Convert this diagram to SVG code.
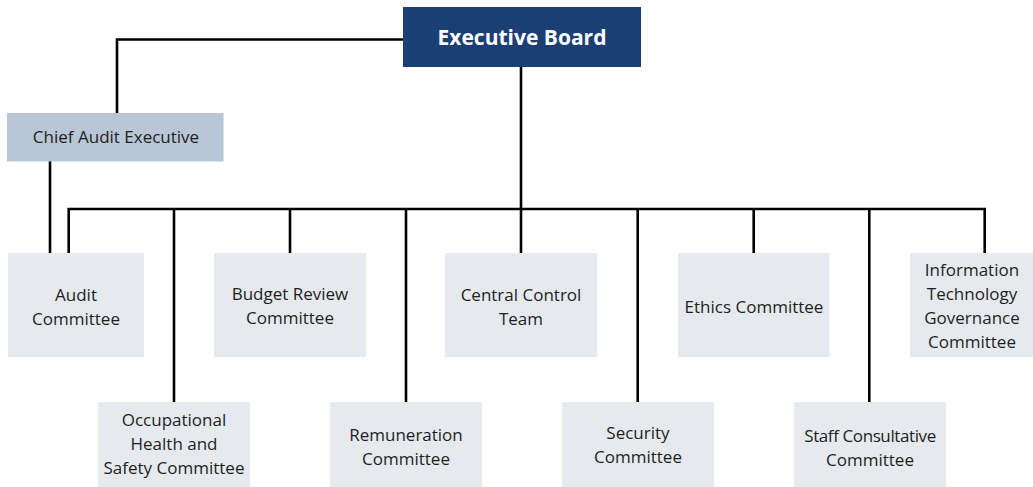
<svg xmlns="http://www.w3.org/2000/svg" width="1033" height="487" viewBox="0 0 1033 487">
  <style>
    .box { fill: #e6eaee; }
    .lbl { font-family: "Open Sans", "Noto Sans", sans-serif; font-size: 17px; fill: #1e1e1e; text-anchor: middle; }
    .wire { fill: none; stroke: #000; stroke-width: 2.6; stroke-linecap: butt; stroke-linejoin: miter; }
  </style>
  <rect width="1033" height="487" fill="#ffffff"/>

  <!-- connectors -->
  <g id="connectors" class="wire">
    <polyline points="403,39.5 117,39.5 117,113"/>
    <line x1="50" y1="161" x2="50" y2="253"/>
    <line x1="521" y1="67" x2="521" y2="253"/>
    <polyline points="68.7,253 68.7,209 984.7,209 984.7,253"/>
    <line x1="174" y1="209" x2="174" y2="402"/>
    <line x1="290" y1="209" x2="290" y2="253"/>
    <line x1="406" y1="209" x2="406" y2="402"/>
    <line x1="637.7" y1="209" x2="637.7" y2="402"/>
    <line x1="753.7" y1="209" x2="753.7" y2="253"/>
    <line x1="869.3" y1="209" x2="869.3" y2="402"/>
  </g>

  <g id="executive-board">
    <rect x="403" y="7" width="238" height="60" fill="#1b3f74"/>
    <text x="522" y="45" font-family="Open Sans, Noto Sans, sans-serif" font-size="21" font-weight="bold" fill="#ffffff" text-anchor="middle">Executive Board</text>
  </g>

  <g id="chief-audit-executive">
    <rect x="7" y="113" width="216.5" height="48.5" fill="#b8c6d6"/>
    <text class="lbl" x="116" y="143" font-size="16.5">Chief Audit Executive</text>
  </g>

  <g id="audit-committee">
    <rect class="box" x="8" y="253" width="136" height="104"/>
    <text class="lbl" x="76" y="301">Audit</text>
    <text class="lbl" x="76" y="325">Committee</text>
  </g>

  <g id="budget-review-committee">
    <rect class="box" x="214" y="253" width="152" height="104"/>
    <text class="lbl" x="290" y="300">Budget Review</text>
    <text class="lbl" x="290" y="324">Committee</text>
  </g>

  <g id="central-control-team">
    <rect class="box" x="445" y="253" width="152" height="104"/>
    <text class="lbl" x="521" y="301">Central Control</text>
    <text class="lbl" x="521" y="325">Team</text>
  </g>

  <g id="ethics-committee">
    <rect class="box" x="678" y="253" width="151.5" height="104"/>
    <text class="lbl" x="754" y="313">Ethics Committee</text>
  </g>

  <g id="it-governance-committee">
    <rect class="box" x="910" y="253" width="123" height="104"/>
    <text class="lbl" x="972" y="276">Information</text>
    <text class="lbl" x="972" y="300">Technology</text>
    <text class="lbl" x="972" y="324">Governance</text>
    <text class="lbl" x="972" y="348">Committee</text>
  </g>

  <g id="ohs-committee">
    <rect class="box" x="98" y="402" width="152" height="85"/>
    <text class="lbl" x="174" y="426">Occupational</text>
    <text class="lbl" x="174" y="450">Health and</text>
    <text class="lbl" x="174" y="474">Safety Committee</text>
  </g>

  <g id="remuneration-committee">
    <rect class="box" x="330" y="402" width="152" height="85"/>
    <text class="lbl" x="406" y="441">Remuneration</text>
    <text class="lbl" x="406" y="465">Committee</text>
  </g>

  <g id="security-committee">
    <rect class="box" x="562" y="402" width="152" height="85"/>
    <text class="lbl" x="638" y="439">Security</text>
    <text class="lbl" x="638" y="463">Committee</text>
  </g>

  <g id="staff-consultative-committee">
    <rect class="box" x="794" y="402" width="152" height="85"/>
    <text class="lbl" x="870" y="442" letter-spacing="-0.4">Staff Consultative</text>
    <text class="lbl" x="870" y="466">Committee</text>
  </g>
</svg>
